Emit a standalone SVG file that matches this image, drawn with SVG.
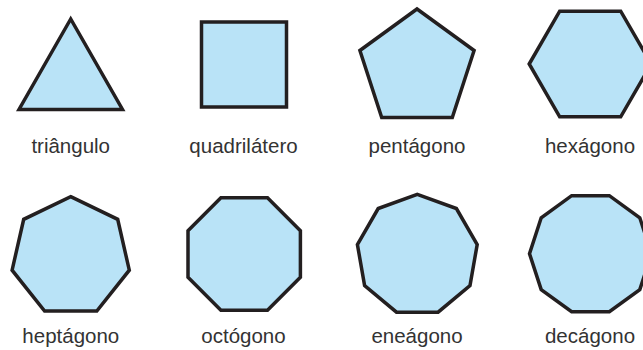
<svg xmlns="http://www.w3.org/2000/svg" width="643" height="350" viewBox="0 0 643 350">
<style>
.s{fill:#b9e3f7;stroke:#231f20;stroke-width:3.5;stroke-linejoin:miter}
.t{font-family:"Liberation Sans",Arial,sans-serif;font-size:20.5px;fill:#333;text-anchor:middle}
</style>
<rect width="643" height="350" fill="#fff"/>
<g id="triangulo">
<polygon class="s" points="70.7,19 19,109.5 122.5,109.5"/>
<text class="t" x="70.7" y="153">triângulo</text>
</g>
<g id="quadrilatero">
<rect class="s" x="201.5" y="22" width="85" height="85"/>
<text class="t" x="243.5" y="153">quadrilátero</text>
</g>
<g id="pentagono">
<polygon class="s" points="417,9 474.1,50.5 452.3,117.5 381.7,117.5 359.9,50.5"/>
<text class="t" x="417" y="153">pentágono</text>
</g>
<g id="hexagono">
<polygon class="s" points="529.2,64 559.7,11.2 620.7,11.2 651.2,64 620.7,116.8 559.7,116.8"/>
<text class="t" x="590" y="153">hexágono</text>
</g>
<g id="heptagono">
<polygon class="s" points="70.7,196.7 117.7,219.3 129.3,270.2 96.8,311 44.6,311 12.1,270.2 23.7,219.3"/>
<text class="t" x="70.8" y="343">heptágono</text>
</g>
<g id="octogono">
<polygon class="s" points="220.9,197.8 267.5,197.8 300.4,230.7 300.4,277.3 267.5,310.2 220.9,310.2 188,277.3 188,230.7"/>
<text class="t" x="243.5" y="343">octógono</text>
</g>
<g id="eneagono">
<polygon class="s" points="417.3,194.3 456.4,208.5 477.2,244.5 470,285.5 438.1,312.2 396.5,312.2 364.6,285.5 357.4,244.5 378.2,208.5"/>
<text class="t" x="417" y="343">eneágono</text>
</g>
<g id="decagono">
<polygon class="s" points="571.65,195.7 609.35,195.7 639.8,217.8 651.5,253.7 639.8,289.6 609.35,311.7 571.65,311.7 541.2,289.6 529.5,253.7 541.2,217.8"/>
<text class="t" x="590" y="343">decágono</text>
</g>
<g id="connectors"/>
</svg>
